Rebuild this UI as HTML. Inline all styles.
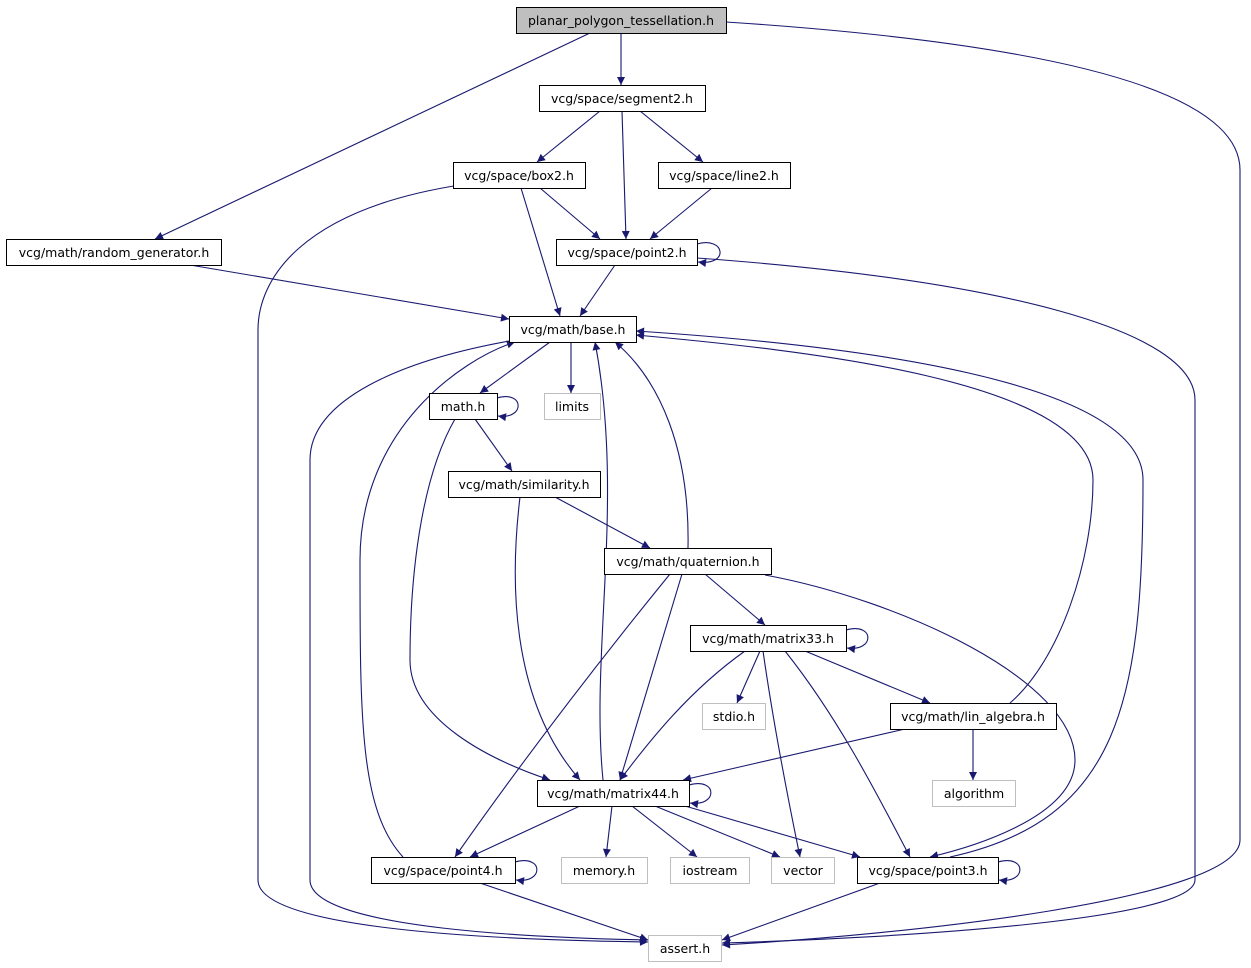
<!DOCTYPE html>
<html><head><meta charset="utf-8"><style>
html,body{margin:0;padding:0;background:#fff;}
svg{display:block;font-family:"DejaVu Sans","Liberation Sans",sans-serif;}
text{font-size:12.5px;text-anchor:middle;fill:#000;}
.e{fill:none;stroke:#191970;stroke-width:1.1;}
</style></head><body>
<svg width="1251" height="968" viewBox="0 0 1251 968" xmlns="http://www.w3.org/2000/svg">
<defs><marker id="a" viewBox="0 0 10 10" refX="10" refY="5" markerWidth="10" markerHeight="8" markerUnits="userSpaceOnUse" orient="auto"><path d="M0,0 L10,5 L0,10 z" fill="#191970"/></marker></defs>
<g class="e" marker-end="url(#a)">
<path d="M621,33 L621,85"/>
<path d="M590,33 L155,239"/>
<path d="M726,22 C1000,40 1240,80 1240,170 L1240,840 C1240,900 900,935 722,945"/>
<path d="M600,111 L537,162"/>
<path d="M640,111 L703,162"/>
<path d="M622,111 L626,239"/>
<path d="M540,188 L600,239"/>
<path d="M521,188 L560,316"/>
<path d="M460,185 C300,210 258,280 258,330 L258,880 C258,930 500,940 648,942"/>
<path d="M712,188 L650,239"/>
<path d="M190,265 L509,319"/>
<path d="M697,244 C725,236 730,266 698,262"/>
<path d="M615,265 L580,316"/>
<path d="M697,258 C1000,280 1195,330 1195,400 L1195,880 C1195,920 900,938 722,943"/>
<path d="M550,342 L480,393"/>
<path d="M571,342 L571,393"/>
<path d="M515,340 C400,360 310,400 310,460 L310,880 C310,930 550,938 648,940"/>
<path d="M403,857 C360,810 360,720 360,560 C360,430 460,360 515,342"/>
<path d="M603,780 C590,650 625,500 595,342"/>
<path d="M688,548 C690,450 660,380 615,342"/>
<path d="M1010,703 C1060,660 1093,560 1093,480 C1093,380 800,350 636,335"/>
<path d="M950,857 C1120,820 1143,700 1143,480 C1143,380 850,345 636,331"/>
<path d="M497,398 C525,390 525,420 498,416"/>
<path d="M475,419 L512,471"/>
<path d="M455,419 C420,480 410,580 410,660 C410,720 490,760 550,780"/>
<path d="M555,497 L650,548"/>
<path d="M520,497 C510,580 510,700 580,780"/>
<path d="M705,574 L765,625"/>
<path d="M682,574 L620,780"/>
<path d="M670,574 C600,660 530,750 455,857"/>
<path d="M765,575 C900,600 1075,680 1075,760 C1075,820 960,850 930,857"/>
<path d="M846,630 C875,622 875,652 847,648"/>
<path d="M760,651 L737,703"/>
<path d="M805,651 L930,703"/>
<path d="M745,651 C690,690 650,740 620,780"/>
<path d="M763,651 C770,700 780,760 800,857"/>
<path d="M785,651 C840,720 880,800 910,857"/>
<path d="M973,729 L973,780"/>
<path d="M905,729 L683,780"/>
<path d="M689,785 C718,777 718,807 690,803"/>
<path d="M580,806 L470,857"/>
<path d="M612,806 L606,857"/>
<path d="M632,806 L697,857"/>
<path d="M655,806 L780,857"/>
<path d="M685,806 L860,857"/>
<path d="M515,862 C544,854 544,884 516,880"/>
<path d="M480,883 L648,940"/>
<path d="M998,862 C1027,854 1027,884 999,880"/>
<path d="M880,883 L722,940"/>
</g>
<g stroke="#000" stroke-width="1" fill="#fff">
<rect x="516.5" y="7.5" width="210" height="26" fill="#bfbfbf"/>
<rect x="539.5" y="85.5" width="166" height="26"/>
<rect x="453.5" y="162.5" width="132" height="26"/>
<rect x="658.5" y="162.5" width="132" height="26"/>
<rect x="6.5" y="239.5" width="215" height="26"/>
<rect x="556.5" y="239.5" width="141" height="26"/>
<rect x="509.5" y="316.5" width="127" height="26"/>
<rect x="429.5" y="393.5" width="68" height="26"/>
<rect x="448.5" y="471.5" width="152" height="26"/>
<rect x="604.5" y="548.5" width="167" height="26"/>
<rect x="690.5" y="625.5" width="156" height="26"/>
<rect x="890.5" y="703.5" width="166" height="26"/>
<rect x="537.5" y="780.5" width="152" height="26"/>
<rect x="371.5" y="857.5" width="144" height="26"/>
<rect x="857.5" y="857.5" width="141" height="26"/>
</g>
<g stroke="#bfbfbf" stroke-width="1" fill="#fff">
<rect x="544.5" y="393.5" width="56" height="26"/>
<rect x="702.5" y="703.5" width="63" height="26"/>
<rect x="932.5" y="780.5" width="83" height="26"/>
<rect x="561.5" y="857.5" width="86" height="26"/>
<rect x="670.5" y="857.5" width="79" height="26"/>
<rect x="771.5" y="857.5" width="63" height="26"/>
<rect x="648.5" y="935.5" width="73" height="26"/>
</g>
<text x="621" y="25">planar_polygon_tessellation.h</text>
<text x="622" y="103">vcg/space/segment2.h</text>
<text x="519" y="180">vcg/space/box2.h</text>
<text x="724" y="180">vcg/space/line2.h</text>
<text x="114" y="257">vcg/math/random_generator.h</text>
<text x="627" y="257">vcg/space/point2.h</text>
<text x="573" y="334">vcg/math/base.h</text>
<text x="463" y="411">math.h</text>
<text x="572" y="411">limits</text>
<text x="524" y="489">vcg/math/similarity.h</text>
<text x="688" y="566">vcg/math/quaternion.h</text>
<text x="768" y="643">vcg/math/matrix33.h</text>
<text x="734" y="721">stdio.h</text>
<text x="973" y="721">vcg/math/lin_algebra.h</text>
<text x="974" y="798">algorithm</text>
<text x="613" y="798">vcg/math/matrix44.h</text>
<text x="443" y="875">vcg/space/point4.h</text>
<text x="604" y="875">memory.h</text>
<text x="710" y="875">iostream</text>
<text x="803" y="875">vector</text>
<text x="928" y="875">vcg/space/point3.h</text>
<text x="685" y="953">assert.h</text>
</svg>
</body></html>
